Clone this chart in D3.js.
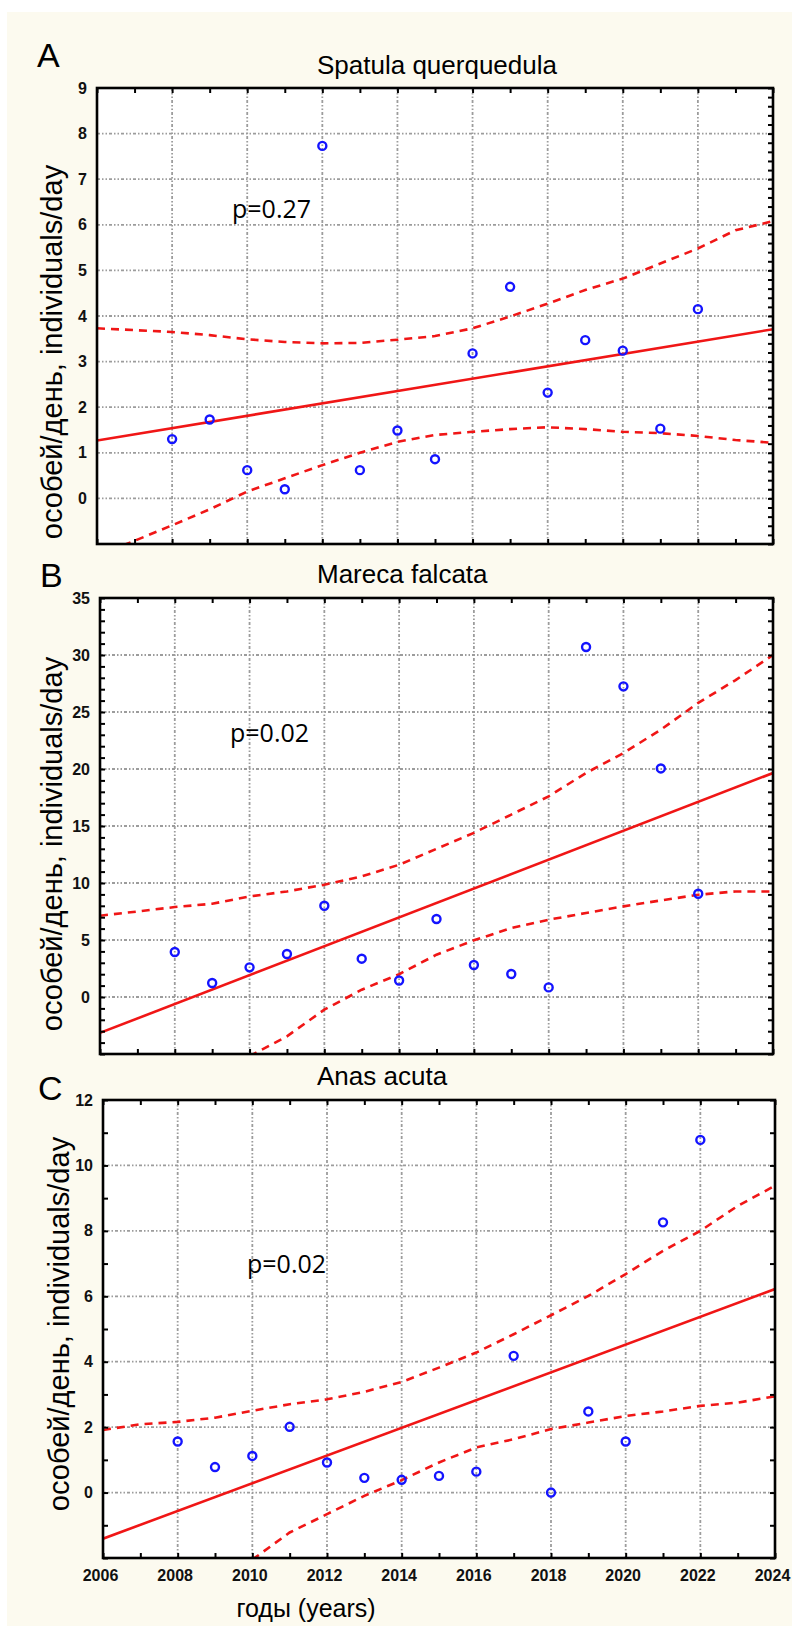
<!DOCTYPE html>
<html lang="en">
<head>
<meta charset="utf-8">
<title>Duck counts 2008-2022</title>
<script src="https://cdn.jsdelivr.net/npm/d3@7"></script>
<style>
body { margin: 0; background: #fff; }
svg { display: block; }
.tick-label { font-family: "Liberation Sans", Arial, sans-serif; font-weight: bold; fill: #111; }
</style>
</head>
<body>
<div id="vis"></div>
<script>

/* Data */
/* ==== */

var years = [2008, 2009, 2010, 2011, 2012, 2013, 2014, 2015, 2016, 2017, 2018, 2019, 2020, 2021, 2022];

var spatulaCounts = [1.3, 1.73, 0.62, 0.2, 7.73, 0.62, 1.49, 0.86, 3.18, 4.64, 2.32, 3.47, 3.24, 1.53, 4.15];
var marecaCounts  = [3.95, 1.23, 2.6, 3.77, 8.0, 3.36, 1.45, 6.84, 2.81, 2.02, 0.84, 30.7, 27.25, 20.05, 9.06];
var anasCounts    = [1.56, 0.78, 1.12, 2.01, 0.92, 0.45, 0.39, 0.51, 0.64, 4.18, 0.0, 2.48, 1.56, 8.26, 10.78];

// regression line end points and 95% band, read at each year
var fitYears  = [2006, 2024];
var bandYears = [2006, 2007, 2008, 2009, 2010, 2011, 2012, 2013, 2014, 2015, 2016, 2017, 2018, 2019, 2020, 2021, 2022, 2023, 2024];

var spatulaFit   = [1.27, 3.71];
var spatulaUpper = [3.73, 3.69, 3.65, 3.58, 3.49, 3.43, 3.40, 3.41, 3.48, 3.56, 3.73, 3.99, 4.27, 4.57, 4.82, 5.15, 5.48, 5.88, 6.08];
var spatulaLower = [-1.25, -0.93, -0.59, -0.24, 0.15, 0.44, 0.73, 1.0, 1.24, 1.39, 1.46, 1.52, 1.56, 1.52, 1.46, 1.43, 1.37, 1.28, 1.22];

var marecaFit   = [-3.15, 19.65];
var marecaUpper = [7.13, 7.5, 7.89, 8.18, 8.82, 9.26, 9.85, 10.58, 11.6, 13.0, 14.4, 16.0, 17.6, 19.65, 21.4, 23.45, 25.8, 27.8, 30.0];
var marecaLower = [null, null, null, null, -5.2, -3.45, -1.11, 0.64, 2.0, 3.71, 4.97, 6.05, 6.78, 7.37, 7.95, 8.47, 8.97, 9.26, 9.26];

var anasFit   = [-1.41, 6.22];
var anasUpper = [1.91, 2.09, 2.16, 2.29, 2.50, 2.70, 2.85, 3.08, 3.38, 3.82, 4.28, 4.84, 5.42, 6.01, 6.68, 7.39, 8.0, 8.76, 9.38];
var anasLower = [null, null, null, null, -2.05, -1.22, -0.66, -0.1, 0.38, 0.92, 1.38, 1.63, 1.94, 2.14, 2.34, 2.48, 2.65, 2.75, 2.94];

var gridYears  = [2008, 2010, 2012, 2014, 2016, 2018, 2020, 2022];
var labelYears = [2006, 2008, 2010, 2012, 2014, 2016, 2018, 2020, 2022, 2024];

var spatulaTicks = [0, 1, 2, 3, 4, 5, 6, 7, 8, 9];
var marecaTicks  = [0, 5, 10, 15, 20, 25, 30, 35];
var anasTicks    = [0, 2, 4, 6, 8, 10, 12];

var titles  = ['Spatula querquedula', 'Mareca falcata', 'Anas acuta'];
var letters = ['A', 'B', 'C'];
var pLabels = ['p=0.27', 'p=0.02', 'p=0.02'];

var yLabel = 'особей/день, individuals/day';
var xLabel = 'годы (years)';


/* Layout */
/* ====== */

var W = 792, H = 1626;
var red = '#f01616', blue = '#1414ff', cream = '#fcfaef';

var panels = [
	{ counts: spatulaCounts, fit: spatulaFit, upper: spatulaUpper, lower: spatulaLower, ticks: spatulaTicks,
		yDomain: [-1, 9], left: 97, right: 773, top: 88, bottom: 544,
		leftMinor: 0, rightMinor: 40,
		letterPos: [37, 67], titlePos: [317, 74], pPos: [232, 218], yLabelPos: [62, 352] },
	{ counts: marecaCounts, fit: marecaFit, upper: marecaUpper, lower: marecaLower, ticks: marecaTicks,
		yDomain: [-5, 35], left: 100, right: 773, top: 598, bottom: 1054,
		leftMinor: 40, rightMinor: 40,
		letterPos: [40, 587], titlePos: [317, 583], pPos: [230, 742], yLabelPos: [62, 844] },
	{ counts: anasCounts, fit: anasFit, upper: anasUpper, lower: anasLower, ticks: anasTicks,
		yDomain: [-2, 12], left: 103, right: 775, top: 1100, bottom: 1558,
		leftMinor: 14, rightMinor: 14,
		letterPos: [38, 1100], titlePos: [317, 1085], pPos: [247, 1273], yLabelPos: [69, 1324] }
];

var svg = d3.select('#vis')
	.append('svg')
		.attr('width', W)
		.attr('height', H);

svg.append('rect').attr('width', W).attr('height', H).attr('fill', '#fff');
svg.append('rect').attr('x', 7).attr('y', 12).attr('width', W - 7).attr('height', H - 12).attr('fill', cream);


/* Functions */
/* ========= */

function drawPanel(cfg, i) {

	var x = d3.scaleLinear().domain([2006, 2024]).range([cfg.left, cfg.right]);
	var y = d3.scaleLinear().domain(cfg.yDomain).range([cfg.bottom, cfg.top]);

	var g = svg.append('g').attr('class', 'panel');

	g.append('rect')
		.attr('x', cfg.left).attr('y', cfg.top)
		.attr('width', cfg.right - cfg.left).attr('height', cfg.bottom - cfg.top)
		.attr('fill', '#fff');

	// grid
	var grid = g.append('g')
		.attr('stroke', '#9c9c9c')
		.attr('stroke-width', 1.8)
		.attr('stroke-dasharray', '3,2,1.5,2,1.5,2');

	grid.selectAll('.vgrid')
		.data(gridYears)
		.enter().append('line')
			.attr('x1', function(d) { return x(d); })
			.attr('x2', function(d) { return x(d); })
			.attr('y1', cfg.top)
			.attr('y2', cfg.bottom);

	grid.selectAll('.hgrid')
		.data(cfg.ticks.filter(function(d) { return d > cfg.yDomain[0] && d < cfg.yDomain[1]; }))
		.enter().append('line')
			.attr('x1', cfg.left)
			.attr('x2', cfg.right)
			.attr('y1', function(d) { return y(d); })
			.attr('y2', function(d) { return y(d); });

	// clip
	var clipId = 'clip' + i;
	g.append('clipPath').attr('id', clipId)
		.append('rect')
			.attr('x', cfg.left).attr('y', cfg.top)
			.attr('width', cfg.right - cfg.left).attr('height', cfg.bottom - cfg.top);

	var plot = g.append('g').attr('clip-path', 'url(#' + clipId + ')');

	var line = d3.line()
		.defined(function(d) { return d.v != null; })
		.x(function(d) { return x(d.year); })
		.y(function(d) { return y(d.v); });

	function zip(ys, vs) {
		return ys.map(function(yr, k) { return { year: yr, v: vs[k] }; });
	}

	[cfg.upper, cfg.lower].forEach(function(band) {
		plot.append('path')
			.datum(zip(bandYears, band))
			.attr('d', line)
			.attr('fill', 'none')
			.attr('stroke', red)
			.attr('stroke-width', 2.6)
			.attr('stroke-dasharray', '8,6');
	});

	plot.append('path')
		.datum(zip(fitYears, cfg.fit))
		.attr('d', line)
		.attr('fill', 'none')
		.attr('stroke', red)
		.attr('stroke-width', 2.6);

	plot.selectAll('.dot')
		.data(zip(years, cfg.counts))
		.enter().append('circle')
			.attr('class', 'dot')
			.attr('cx', function(d) { return x(d.year); })
			.attr('cy', function(d) { return y(d.v); })
			.attr('r', 4)
			.attr('fill', 'none')
			.attr('stroke', blue)
			.attr('stroke-width', 2.4);

	// inward ticks on all four sides
	var tickGroups = [
		{ axis: d3.axisBottom(x).ticks(18).tickSize(-5), t: 'translate(0,' + cfg.bottom + ')' },
		{ axis: d3.axisTop(x).ticks(18).tickSize(-5), t: 'translate(0,' + cfg.top + ')' },
		{ axis: d3.axisRight(y).ticks(cfg.rightMinor).tickSize(-5), t: 'translate(' + cfg.right + ',0)' }
	];
	if (cfg.leftMinor) {
		tickGroups.push({ axis: d3.axisLeft(y).ticks(cfg.leftMinor).tickSize(-5), t: 'translate(' + cfg.left + ',0)' });
	}
	tickGroups.forEach(function(tg) {
		var a = g.append('g').attr('transform', tg.t).call(tg.axis.tickFormat(''));
		a.select('.domain').remove();
		a.selectAll('line').attr('stroke', '#000').attr('stroke-width', 2);
	});

	// frame
	g.append('rect')
		.attr('x', cfg.left).attr('y', cfg.top)
		.attr('width', cfg.right - cfg.left).attr('height', cfg.bottom - cfg.top)
		.attr('fill', 'none')
		.attr('stroke', '#000')
		.attr('stroke-width', 2.6);

	// y tick labels
	var yl = g.append('g')
		.attr('transform', 'translate(' + cfg.left + ',0)')
		.call(d3.axisLeft(y).tickValues(cfg.ticks).tickSize(0).tickPadding(10).tickFormat(d3.format('d')));
	yl.select('.domain').remove();
	yl.selectAll('text')
		.attr('class', 'tick-label')
		.style('font-size', '16px');

	// texts
	g.append('text')
		.attr('x', cfg.letterPos[0]).attr('y', cfg.letterPos[1])
		.style('font-family', '"Liberation Sans", Arial, sans-serif')
		.style('font-size', '34px')
		.text(letters[i]);

	g.append('text')
		.attr('x', cfg.titlePos[0]).attr('y', cfg.titlePos[1])
		.style('font-family', '"Liberation Sans", Arial, sans-serif')
		.style('font-size', '26px')
		.text(titles[i]);

	g.append('text')
		.attr('x', cfg.pPos[0]).attr('y', cfg.pPos[1])
		.style('font-family', '"Open Sans", sans-serif')
		.style('font-size', '25px')
		.text(pLabels[i]);

	g.append('text')
		.attr('transform', 'translate(' + cfg.yLabelPos[0] + ',' + cfg.yLabelPos[1] + ') rotate(-90)')
		.attr('text-anchor', 'middle')
		.style('font-family', '"Liberation Sans", Arial, sans-serif')
		.style('font-size', '29px')
		.text(yLabel);

	return x;

} // drawPanel()


/* Build */
/* ===== */

var xs = panels.map(drawPanel);

// year labels under the last panel only
var last = panels[2];
var xl = svg.append('g')
	.attr('transform', 'translate(-3,' + last.bottom + ')')
	.call(d3.axisBottom(xs[2]).tickValues(labelYears).tickSize(0).tickPadding(12).tickFormat(d3.format('d')));
xl.select('.domain').remove();
xl.selectAll('text')
	.attr('class', 'tick-label')
	.style('font-size', '16px');

svg.append('text')
	.attr('x', 306).attr('y', 1617)
	.attr('text-anchor', 'middle')
	.style('font-family', '"Liberation Sans", Arial, sans-serif')
	.style('font-size', '25px')
	.text(xLabel);

</script>
</body>
</html>
